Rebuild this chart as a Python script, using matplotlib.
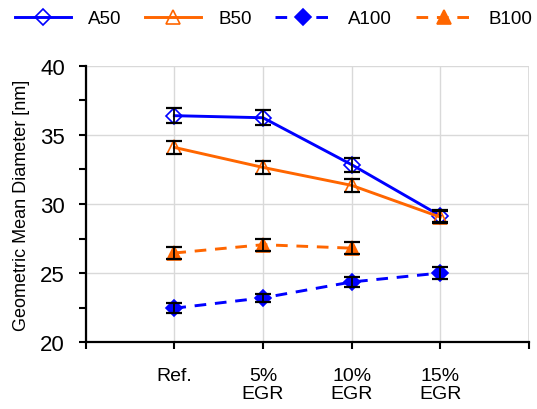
import numpy as np
import matplotlib.pyplot as plt
from matplotlib.ticker import MultipleLocator

plt.rcParams['font.family'] = ['Liberation Sans', 'DejaVu Sans']

# data
cats = ['Ref.', '5%\nEGR', '10%\nEGR', '15%\nEGR']
a50 = [36.4, 36.25, 32.85, 29.15]
a50_err = [0.55, 0.54, 0.5, 0.45]
b50 = [34.1, 32.65, 31.35, 29.05]
b50_err = [0.5, 0.48, 0.47, 0.45]
a100 = [22.45, 23.2, 24.35, 25.0]
a100_err = [0.36, 0.3, 0.36, 0.4]
b100 = [26.45, 27.05, 26.8]
b100_err = [0.4, 0.42, 0.43]

blue = '#0000ff'
orange = '#ff6600'

fig = plt.figure(figsize=(5.37, 4.10), dpi=100)
ax = fig.add_axes([0.1596, 0.1634, 0.8254, 0.6732])

x = np.arange(1, len(cats) + 1)
dash = (0, (4, 3))

series = [
    (a50, a50_err, blue, 'D', 'none', '-', 'A50'),
    (b50, b50_err, orange, '^', 'none', '-', 'B50'),
    (a100, a100_err, blue, 'D', blue, dash, 'A100'),
    (b100, b100_err, orange, '^', orange, dash, 'B100'),
]
for y, err, col, mk, fc, ls, lab in series:
    xx = x[:len(y)]
    ax.plot(xx, y, color=col, lw=2.1, ls=ls, marker=mk, ms=8.5 if mk == 'D' else 9.5,
            mfc=fc, mec=col, mew=1.2, label=lab, zorder=3)
    ax.errorbar(xx, y, yerr=err, fmt='none', ecolor='black', elinewidth=1.3,
                capsize=6, capthick=1.6, zorder=4)

ax.set_xlim(0, 5)
ax.set_ylim(20, 40)
ax.set_xticks(range(6))
ax.set_xticklabels([''] + cats + [''], fontsize=14, va='top', linespacing=1.05)
ax.yaxis.set_major_locator(MultipleLocator(5))
ax.yaxis.set_minor_locator(MultipleLocator(2.5))
ax.tick_params(axis='y', which='both', direction='out', length=5, width=1.5,
               labelsize=16, pad=10)
ax.tick_params(axis='x', direction='out', length=5, width=1.5, pad=13)
ax.set_ylabel('Geometric Mean Diameter [nm]', fontsize=13, labelpad=7)

for s in ['left', 'bottom']:
    ax.spines[s].set_linewidth(1.6)
for s in ['top', 'right']:
    ax.spines[s].set_visible(False)

ax.grid(True, color='#d9d9d9', lw=1, zorder=0)
ax.set_axisbelow(True)
ax.axvline(5, color='#d9d9d9', lw=1.2, zorder=0)

h, l = ax.get_legend_handles_labels()
fig.legend(h, l, loc='center', bbox_to_anchor=(0.51, 0.952), ncol=4,
           frameon=False, fontsize=13.5, handlelength=3.0, handletextpad=0.9,
           columnspacing=1.25)

fig.savefig('out.png', dpi=100)
